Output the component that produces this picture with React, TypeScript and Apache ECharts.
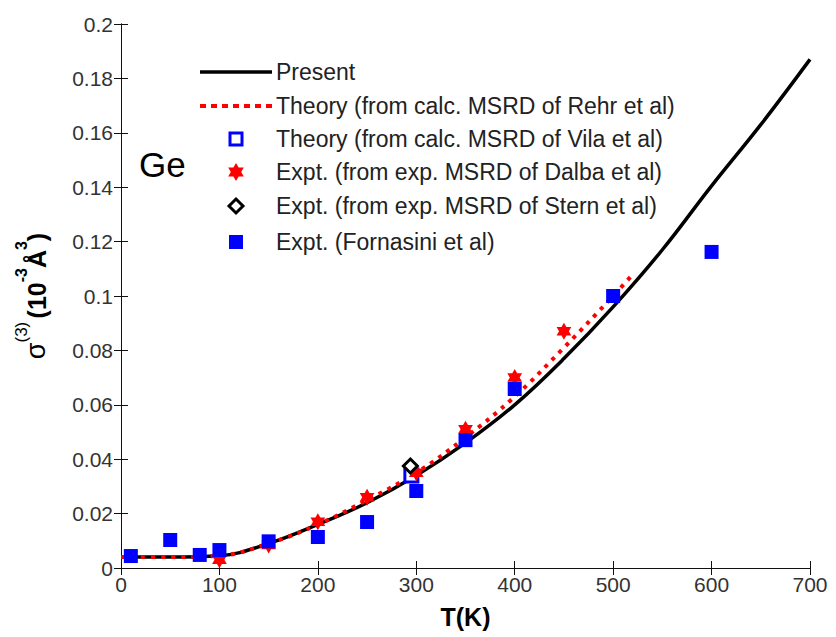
import React, { useEffect, useRef } from "react";
import * as echarts from "echarts";

const xTicks = [0, 100, 200, 300, 400, 500, 600, 700];
const yTickLabels = ["0", "0.02", "0.04", "0.06", "0.08", "0.1", "0.12", "0.14", "0.16", "0.18", "0.2"];

const presentT = [0, 50, 100, 150, 200, 250, 300, 350, 400, 450, 500, 550, 600, 650, 700];
const presentV = [0.004, 0.004, 0.0045, 0.009, 0.016, 0.024, 0.034, 0.046, 0.06, 0.077, 0.096, 0.117, 0.1405, 0.163, 0.187];

const rehrT = [0, 50, 100, 150, 200, 250, 300, 350, 400, 450, 500, 520];
const rehrV = [0.004, 0.004, 0.0045, 0.009, 0.016, 0.025, 0.035, 0.048, 0.063, 0.081, 0.1, 0.108];

const vilaT = [295];
const vilaV = [0.034];

const dalbaT = [100, 150, 200, 250, 300, 350, 400, 450];
const dalbaV = [0.003, 0.0085, 0.017, 0.026, 0.035, 0.051, 0.07, 0.087];

const sternT = [294];
const sternV = [0.0375];

const fornT = [10, 50, 80, 100, 150, 200, 250, 300, 350, 400, 500, 600];
const fornV = [0.0044, 0.0103, 0.0048, 0.0066, 0.0098, 0.0114, 0.0169, 0.0283, 0.047, 0.0658, 0.1, 0.1162];

const legendNames = [
  "Present",
  "Theory (from calc. MSRD of Rehr et al)",
  "Theory (from calc. MSRD of Vila et al)",
  "Expt. (from exp. MSRD of Dalba et al)",
  "Expt. (from exp. MSRD of Stern et al)",
  "Expt. (Fornasini et al)",
];

const zip = (a: number[], b: number[]) => a.map((x, i) => [x, b[i]]);

const hexagram =
  "path://M0,-10L2.887,-5L8.66,-5L5.774,0L8.66,5L2.887,5L0,10L-2.887,5L-8.66,5L-5.774,0L-8.66,-5L-2.887,-5Z";

const FONT = "Liberation Sans, Arial, Helvetica, sans-serif";

function hexPoints(cx: number, cy: number, r: number) {
  const pts: number[][] = [];
  for (let i = 0; i < 12; i++) {
    const ang = (-90 + i * 30) * (Math.PI / 180);
    const rr = i % 2 === 0 ? r : r / Math.sqrt(3);
    pts.push([cx + rr * Math.cos(ang), cy + rr * Math.sin(ang)]);
  }
  return pts;
}

function buildLegend() {
  const lx0 = 200;
  const lx1 = 272;
  const mx = 236;
  const tx = 276;
  const rows = [72, 106, 139, 172, 206, 242];
  const els: any[] = [];
  els.push({ type: "line", shape: { x1: lx0, y1: rows[0], x2: lx1, y2: rows[0] }, style: { stroke: "#000", lineWidth: 3.5 } });
  els.push({ type: "line", shape: { x1: lx0, y1: rows[1], x2: lx1, y2: rows[1] }, style: { stroke: "#ff0000", lineWidth: 4, lineDash: [6, 5] } });
  els.push({ type: "rect", shape: { x: mx - 6, y: rows[2] - 6, width: 12, height: 12 }, style: { fill: "#fff", stroke: "#0000ff", lineWidth: 3 } });
  els.push({ type: "polygon", shape: { points: hexPoints(mx, rows[3], 9) }, style: { fill: "#ff0000" } });
  els.push({
    type: "polygon",
    shape: { points: [[mx, rows[4] - 7], [mx + 7, rows[4]], [mx, rows[4] + 7], [mx - 7, rows[4]]] },
    style: { fill: "#fff", stroke: "#000", lineWidth: 3 },
  });
  els.push({ type: "rect", shape: { x: mx - 7, y: rows[5] - 7, width: 14, height: 14 }, style: { fill: "#0000ff" } });
  legendNames.forEach((n, i) => {
    els.push({
      type: "text",
      x: tx,
      y: rows[i],
      style: { text: n, fill: "#222", fontSize: 23, fontFamily: FONT, verticalAlign: "middle", align: "left" },
    });
  });
  return els;
}

export default function App() {
  const ref = useRef<HTMLDivElement>(null);
  useEffect(() => {
    if (!ref.current) return;
    const chart = echarts.init(ref.current, null, { renderer: "svg" });
    const axisLine = { show: true, lineStyle: { color: "#111", width: 1 } };
    const tick = { show: true, inside: true, length: 7, lineStyle: { color: "#111" } };
    chart.setOption({
      animation: false,
      backgroundColor: "#fff",
      textStyle: { fontFamily: FONT },
      grid: { left: 121, right: 26, top: 24, bottom: 69, containLabel: false },
      xAxis: [
        {
          type: "value",
          min: 0,
          max: 700,
          interval: 100,
          position: "bottom",
          name: "T(K)",
          nameLocation: "middle",
          nameGap: 36,
          nameTextStyle: { fontSize: 25, fontWeight: "bold", color: "#000", fontFamily: FONT },
          axisLine,
          axisTick: tick,
          axisLabel: {
            fontSize: 21,
            color: "#333",
            margin: 6,
            formatter: (v: number) => (xTicks.includes(v) ? String(v) : ""),
          },
          splitLine: { show: false },
        },
        {
          type: "value",
          min: 0,
          max: 700,
          interval: 100,
          position: "top",
          axisLine,
          axisTick: tick,
          axisLabel: { show: false },
          splitLine: { show: false },
        },
      ],
      yAxis: [
        {
          type: "value",
          min: 0,
          max: 0.2,
          interval: 0.02,
          position: "left",
          name: "{s|σ}{sup|(3)} {b|(10}{bsup|-3}{b|Å}{bsup|3}{b|)}",
          nameLocation: "middle",
          nameGap: 72,
          nameRotate: 90,
          nameTextStyle: {
            color: "#000",
            rich: {
              s: { fontSize: 27, fontFamily: FONT, color: "#000", verticalAlign: "bottom", lineHeight: 36 },
              sup: { fontSize: 17, fontFamily: FONT, color: "#000", verticalAlign: "top", lineHeight: 36 },
              b: { fontSize: 25, fontWeight: "bold", fontFamily: FONT, color: "#000", verticalAlign: "bottom", lineHeight: 36 },
              bsup: { fontSize: 16, fontWeight: "bold", fontFamily: FONT, color: "#000", verticalAlign: "top", lineHeight: 36 },
            },
          },
          axisLine,
          axisTick: tick,
          axisLabel: {
            fontSize: 21,
            color: "#333",
            margin: 8,
            formatter: (v: number) => {
              const i = Math.round(v / 0.02);
              return yTickLabels[i] ?? "";
            },
          },
          splitLine: { show: false },
        },
        {
          type: "value",
          min: 0,
          max: 0.2,
          interval: 0.02,
          position: "right",
          axisLine,
          axisTick: tick,
          axisLabel: { show: false },
          splitLine: { show: false },
        },
      ],
      graphic: [
        {
          type: "text",
          x: 139,
          y: 164,
          style: { text: "Ge", fontSize: 35, fill: "#000", fontFamily: FONT, verticalAlign: "middle" },
        },
        ...buildLegend(),
      ],
      series: [
        {
          name: legendNames[0],
          type: "line",
          data: zip(presentT, presentV),
          smooth: 0.4,
          showSymbol: false,
          symbol: "none",
          lineStyle: { color: "#000", width: 3.5 },
          z: 2,
        },
        {
          name: legendNames[1],
          type: "line",
          data: zip(rehrT, rehrV),
          smooth: 0.4,
          showSymbol: false,
          symbol: "none",
          lineStyle: { color: "#ff0000", width: 4, type: [4, 6] },
          z: 3,
        },
        {
          name: legendNames[2],
          type: "scatter",
          data: zip(vilaT, vilaV),
          symbol: "rect",
          symbolSize: 13,
          itemStyle: { color: "#fff", borderColor: "#0000ff", borderWidth: 3, opacity: 1 },
          z: 4,
        },
        {
          name: legendNames[3],
          type: "scatter",
          data: zip(dalbaT, dalbaV),
          symbol: hexagram,
          symbolSize: 17,
          symbolKeepAspect: true,
          itemStyle: { color: "#ff0000", opacity: 1 },
          z: 4,
        },
        {
          name: legendNames[4],
          type: "scatter",
          data: zip(sternT, sternV),
          symbol: "diamond",
          symbolSize: 14,
          itemStyle: { color: "#fff", borderColor: "#000", borderWidth: 3, opacity: 1 },
          z: 6,
        },
        {
          name: legendNames[5],
          type: "scatter",
          data: zip(fornT, fornV),
          symbol: "rect",
          symbolSize: 14,
          itemStyle: { color: "#0000ff", opacity: 1 },
          z: 5,
        },
      ],
    });
    return () => chart.dispose();
  }, []);
  return (
    <div
      ref={ref}
      style={{ position: "fixed", left: 0, top: 0, width: 836, height: 637, background: "#fff" }}
    />
  );
}
